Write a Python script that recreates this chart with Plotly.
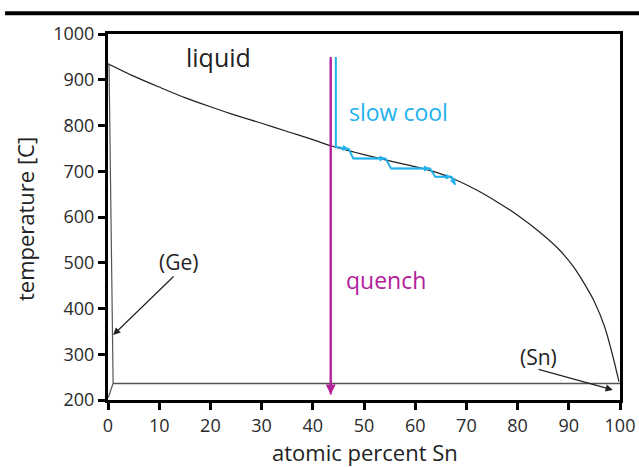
import plotly.graph_objects as go

# ---- data ----
liq_x = [0, 5, 10, 15, 20, 25, 30, 35, 40, 44, 48, 52, 56, 60, 64, 68, 72, 76, 80, 84, 88, 91, 93, 95, 97, 98.5, 99.8]
liq_T = [935, 908, 884, 861, 841, 822, 805, 787, 769, 754, 742, 731, 720, 710, 698, 681, 659, 633, 604, 570, 530, 490, 455, 415, 360, 300, 240]

ge_x = [0.2, 1.0, 0.05]
ge_T = [935, 237, 205]

eut_x = [1.0, 100]
eut_T = [236, 236]

slow_x = [44.5, 44.5, 47.0, 47.9, 54.2, 55.3, 62.9, 63.9, 67.1, 67.8]
slow_T = [950, 753, 749, 728, 728, 706, 706, 688, 688, 670]

quench_x = [43.5, 43.5]
quench_T = [950, 212]

x_ticks = [0, 10, 20, 30, 40, 50, 60, 70, 80, 90, 100]
y_ticks = [200, 300, 400, 500, 600, 700, 800, 900, 1000]

BLUE = "#22B2EE"
MAG = "#B3209A"
INK = "#222222"
FONT = "Open Sans"

fig = go.Figure()
fig.add_trace(go.Scatter(x=liq_x, y=liq_T, mode="lines", line=dict(color=INK, width=1.2, shape="spline", smoothing=0.8), showlegend=False))
fig.add_trace(go.Scatter(x=ge_x, y=ge_T, mode="lines", line=dict(color="#555555", width=1.2), showlegend=False))
fig.add_trace(go.Scatter(x=eut_x, y=eut_T, mode="lines", line=dict(color="#555555", width=1.5), showlegend=False))
fig.add_trace(go.Scatter(x=slow_x, y=slow_T, mode="lines", line=dict(color=BLUE, width=2), showlegend=False))
fig.add_trace(go.Scatter(x=quench_x, y=quench_T, mode="lines", line=dict(color=MAG, width=2), showlegend=False))

# small arrowheads along the slow-cool path
for i in (2, 4, 6, 8, 9):
    fig.add_annotation(x=slow_x[i], y=slow_T[i], ax=slow_x[i - 1], ay=slow_T[i - 1], xref="x", yref="y",
                       axref="x", ayref="y", text="", showarrow=True, arrowhead=2, arrowsize=0.8,
                       arrowwidth=1.5, arrowcolor=BLUE)

# quench arrow head
fig.add_annotation(x=quench_x[1], y=quench_T[1], ax=quench_x[0], ay=quench_T[0], xref="x", yref="y",
                   axref="x", ayref="y", text="", showarrow=True, arrowhead=2, arrowsize=1,
                   arrowwidth=2, arrowcolor=MAG)

# (Ge) and (Sn) arrows
fig.add_annotation(x=1.0, y=342, ax=13.1, ay=473, xref="x", yref="y", axref="x", ayref="y",
                   text="", showarrow=True, arrowhead=2, arrowsize=1.2, arrowwidth=1.2, arrowcolor=INK)
fig.add_annotation(x=98.6, y=222, ax=83.8, ay=268, xref="x", yref="y", axref="x", ayref="y",
                   text="", showarrow=True, arrowhead=2, arrowsize=1.2, arrowwidth=1.2, arrowcolor=INK)

labels = [
    ("liquid", 21.5, 950, INK, 25),
    ("slow cool", 56.7, 829, BLUE, 23),
    ("quench", 54.3, 462, MAG, 23),
    ("(Ge)", 13.7, 502, INK, 21),
    ("(Sn)", 84.0, 294, INK, 21),
]
for t, x, y, c, s in labels:
    fig.add_annotation(x=x, y=y, xref="x", yref="y", text=t, showarrow=False,
                       font=dict(family=FONT, size=s, color=c))

# axis titles
fig.add_annotation(x=0.502, y=-0.143, xref="paper", yref="paper", text="atomic percent Sn", showarrow=False,
                   xanchor="center", yanchor="middle", font=dict(family=FONT, size=22, color=INK))
fig.add_annotation(x=-0.162, y=0.4945, xref="paper", yref="paper", text="temperature [C]", showarrow=False,
                   textangle=-90, xanchor="center", yanchor="middle", font=dict(family=FONT, size=22, color=INK))

# top rule
fig.add_shape(type="line", xref="paper", yref="paper", x0=-0.201, x1=1.04, y0=1.057, y1=1.057,
              line=dict(color="black", width=4))

axis_common = dict(showline=True, mirror=True, linecolor="black", linewidth=3,
                   ticks="outside", ticklen=7, tickwidth=2.5, tickcolor="black", showgrid=False, zeroline=False,
                   tickfont=dict(family=FONT, size=18, color="#2a2a2a"), automargin=False)
fig.update_xaxes(range=[0, 100], tickvals=x_ticks, **axis_common)
fig.update_yaxes(range=[200, 1000], tickvals=y_ticks, **axis_common)

fig.update_layout(width=639, height=467, margin=dict(l=108, r=19, t=34, b=67, pad=0),
                  plot_bgcolor="white", paper_bgcolor="white", showlegend=False)

# remove the page's default body margin so the figure fills the window exactly; hide the toolbar
fig.write_html("out.html", config={"displayModeBar": False},
               post_script="document.body.style.margin='0';document.body.style.overflow='hidden';")
